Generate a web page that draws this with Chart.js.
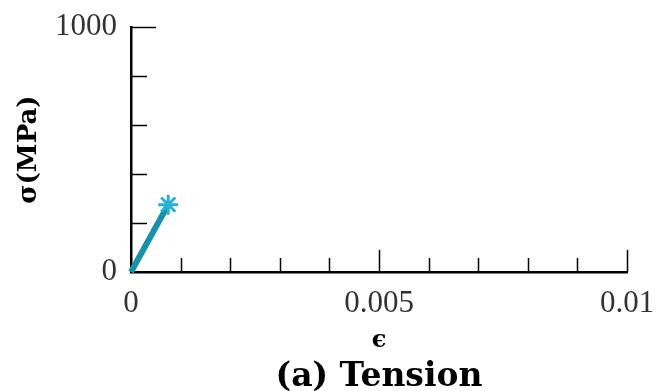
<!DOCTYPE html>
<html>
<head>
<meta charset="utf-8">
<script src="https://cdn.jsdelivr.net/npm/chart.js@4"></script>
<style>
  html, body { margin: 0; padding: 0; background: #fff; }
  #wrap { width: 657px; height: 391px; }
</style>
</head>
<body>
<div id="wrap"><canvas id="tensionChart" width="657" height="391"></canvas></div>
<script>
// data
var strainValues = [0, 0.00075];
var stressValues = [0, 275];
var xLabelTicks = [0, 0.005, 0.01];
var yLabelTicks = [0, 1000];

var points = strainValues.map(function(v, i) { return { x: v, y: stressValues[i] }; });

function isLabelled(list, v)
{
    return list.some(function(t) { return Math.abs(t - v) < 1e-9; });
}

function noOverflow(s)
{
    s.paddingTop = 0;
    s.paddingBottom = 0;
    s.paddingLeft = 0;
    s.paddingRight = 0;
}

// short tick marks pointing into the plot
var innerTicks = {
    id: 'innerTicks',
    afterDraw: function(chart)
    {
        var ctx = chart.ctx, xs = chart.scales.x, ys = chart.scales.y;
        ctx.save();
        ctx.strokeStyle = '#000';
        ctx.lineWidth = 1.5;
        ctx.beginPath();
        xs.ticks.forEach(function(t) {
            var px = Math.round(xs.getPixelForValue(t.value)) + 0.5;
            var len = isLabelled(xLabelTicks, t.value) ? 22 : 14;
            if (t.value === 0) return;
            ctx.moveTo(px, ys.bottom);
            ctx.lineTo(px, ys.bottom - len);
        });
        ys.ticks.forEach(function(t) {
            var py = Math.round(ys.getPixelForValue(t.value)) + 0.5;
            var len = isLabelled(yLabelTicks, t.value) ? 25 : 16;
            if (t.value === 0) return;
            ctx.moveTo(xs.left, py);
            ctx.lineTo(xs.left + len, py);
        });
        ctx.stroke();
        ctx.restore();
    }
};

new Chart("tensionChart", {
    type: "scatter",
    data: {
        datasets: [{
            data: points,
            showLine: true,
            borderColor: "#1a90aa",
            borderWidth: 6,
            pointStyle: "star",
            pointRadius: [0, 10],
            pointBorderWidth: 3,
            pointBorderColor: "#27b2d2",
            pointBackgroundColor: "#27b2d2",
            clip: false
        }]
    },
    options: {
        responsive: false,
        animation: false,
        layout: { padding: { top: 27, right: 30, left: 0, bottom: 0 } },
        plugins: {
            legend: { display: false },
            tooltip: { enabled: false },
            title: {
                display: true,
                position: 'bottom',
                fullSize: false,
                text: '(a) Tension',
                color: '#000',
                font: { family: "'DejaVu Serif', serif", size: 33, weight: 'bold', lineHeight: 1 },
                padding: { top: 0, bottom: -3 }
            }
        },
        scales: {
            x: {
                type: 'linear',
                min: 0,
                max: 0.01,
                afterFit: function(s) { s.height = 89; noOverflow(s); },
                border: { display: true, color: '#000', width: 2.5 },
                grid: { display: true, drawOnChartArea: false, drawTicks: false, color: 'rgba(0,0,0,0)' },
                ticks: {
                    stepSize: 0.001,
                    padding: 13,
                    color: '#333',
                    font: { family: "'Liberation Serif', serif", size: 31 },
                    maxRotation: 0,
                    autoSkip: false,
                    callback: function(v) { return isLabelled(xLabelTicks, v) ? String(+v.toFixed(3)) : ''; }
                },
                title: {
                    display: true,
                    text: 'ϵ',
                    color: '#000',
                    font: { family: "'DejaVu Serif', serif", size: 24, weight: 'bold', lineHeight: 1 },
                    padding: { top: 0, bottom: 8 }
                }
            },
            y: {
                type: 'linear',
                min: 0,
                max: 1000,
                afterFit: function(s) { s.width = 131; noOverflow(s); },
                border: { display: true, color: '#000', width: 2.5 },
                grid: { display: true, drawOnChartArea: false, drawTicks: false, color: 'rgba(0,0,0,0)' },
                ticks: {
                    stepSize: 200,
                    padding: 14,
                    color: '#333',
                    font: { family: "'Liberation Serif', serif", size: 31 },
                    autoSkip: false,
                    callback: function(v) { return isLabelled(yLabelTicks, v) ? String(v) : ''; }
                },
                title: {
                    display: true,
                    text: 'σ(MPa)',
                    color: '#000',
                    font: { family: "'DejaVu Serif', serif", size: 26, weight: 'bold' },
                    padding: { top: 14, bottom: 0 }
                }
            }
        }
    },
    plugins: [innerTicks]
});
</script>
</body>
</html>
